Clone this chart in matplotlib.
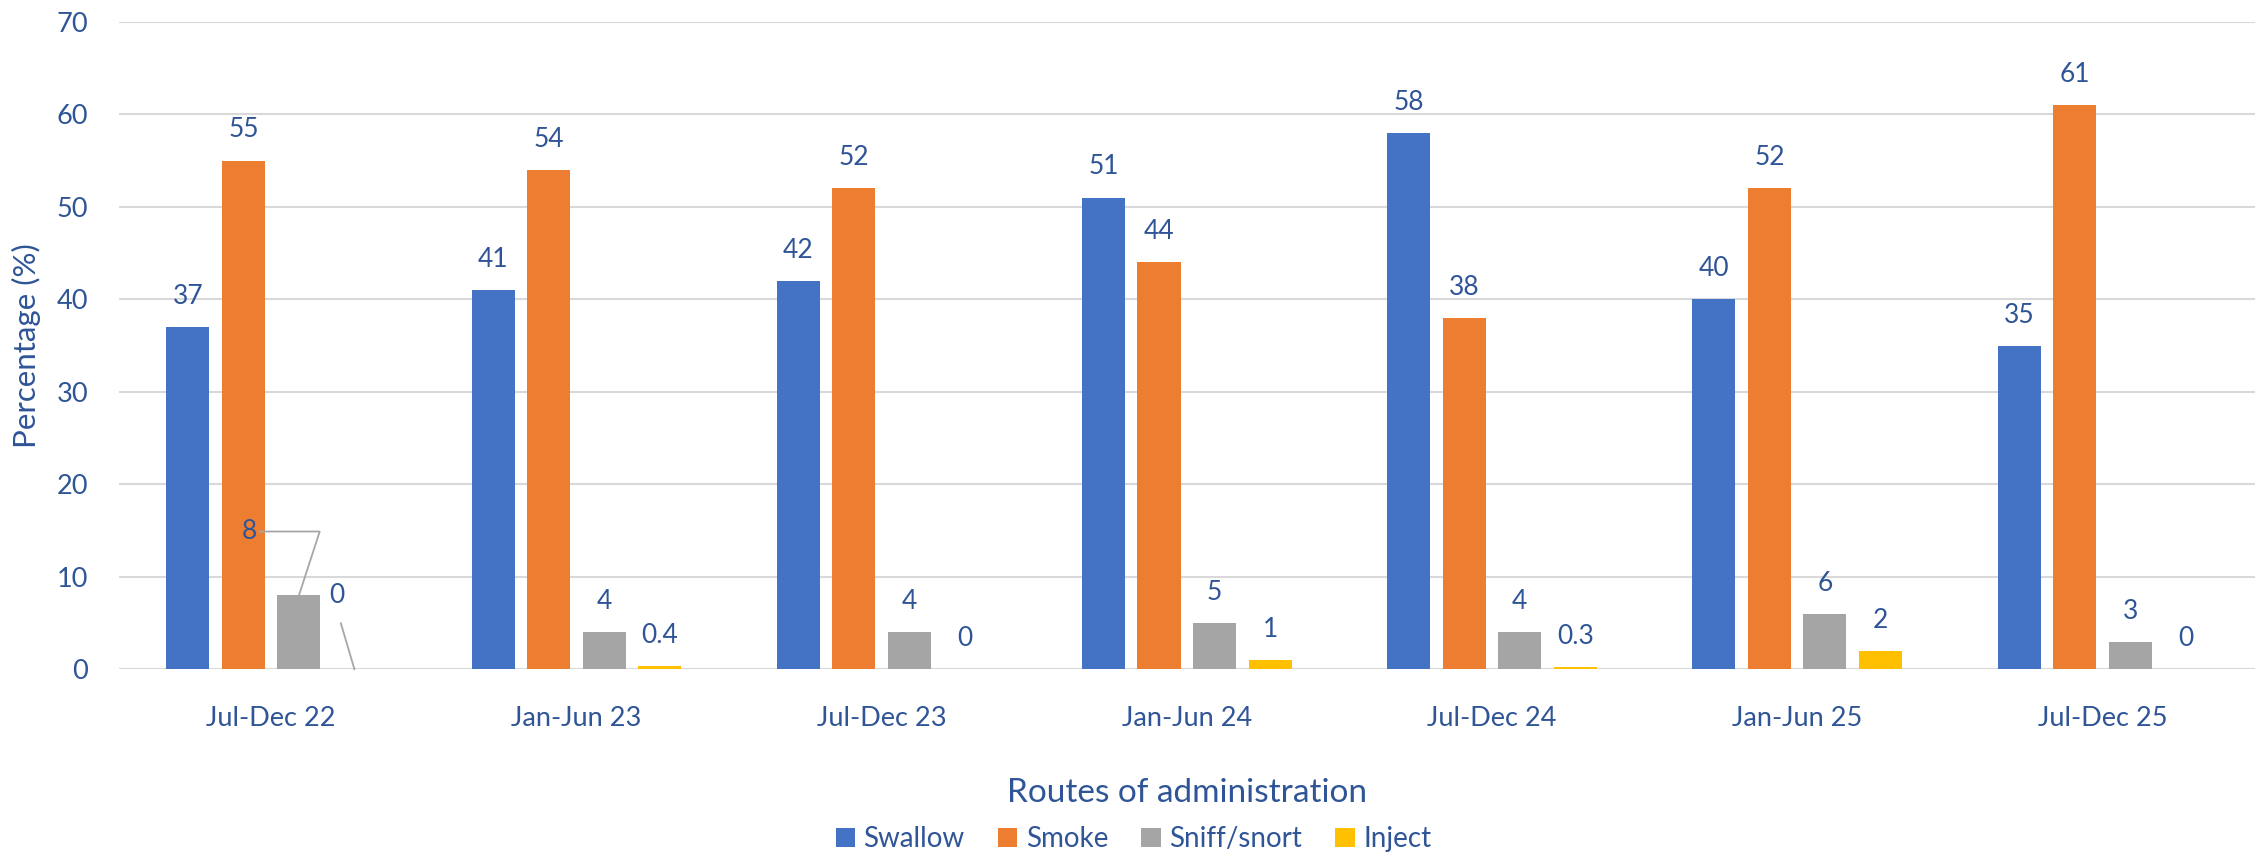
import matplotlib
matplotlib.use("Agg")
import matplotlib.pyplot as plt
import numpy as np

periods = ["Jul-Dec 22", "Jan-Jun 23", "Jul-Dec 23", "Jan-Jun 24",
           "Jul-Dec 24", "Jan-Jun 25", "Jul-Dec 25"]
series_names = ["Swallow", "Smoke", "Sniff/snort", "Inject"]
swallow = [37, 41, 42, 51, 58, 40, 35]
smoke = [55, 54, 52, 44, 38, 52, 61]
sniff = [8, 4, 4, 5, 4, 6, 3]
inject = [0, 0.4, 0, 1, 0.3, 2, 0]

colors = ["#4472C4", "#ED7D31", "#A5A5A5", "#FFC000"]
text_color = "#2F5597"
grid_color = "#D9D9D9"

plt.rcParams["font.family"] = ["Lato", "DejaVu Sans"]

fig = plt.figure(figsize=(22.67, 8.58), dpi=100)
ax = fig.add_axes([0.0523, 0.2198, 0.9424, 0.7549])

x = np.arange(len(periods))
step = 0.182
width = 0.141
label_size = 19

all_series = [swallow, smoke, sniff, inject]

for i, (name, vals) in enumerate(zip(series_names, all_series)):
    offset = (i - 1.5) * step
    bars = ax.bar(x + offset, vals, width, color=colors[i], label=name, zorder=3)
    for j, (b, v) in enumerate(zip(bars, vals)):
        label = f"{v:g}"
        cx = b.get_x() + b.get_width() / 2
        if j == 0 and i == 2:
            # label pulled out to the left with a leader line
            ax.annotate(label, xy=(cx, v), xytext=(-36, 46),
                        textcoords="offset points", ha="center", va="center",
                        fontsize=label_size, color=text_color,
                        arrowprops=dict(arrowstyle="-", color="#A6A6A6", lw=1.3,
                                        shrinkA=0, shrinkB=0, relpos=(1, 0.5),
                                        connectionstyle="angle,angleA=0,angleB=72,rad=0"))
        elif j == 0 and i == 3:
            ax.annotate(label, xy=(cx, v), xytext=(-13, 53),
                        textcoords="offset points", ha="center", va="center",
                        fontsize=label_size, color=text_color,
                        arrowprops=dict(arrowstyle="-", color="#A6A6A6", lw=1.3,
                                        shrinkA=9, shrinkB=0, relpos=(0.5, 0)))
        else:
            ax.annotate(label, xy=(cx, v), xytext=(0, 22),
                        textcoords="offset points", ha="center", va="center",
                        fontsize=label_size, color=text_color)

ax.set_xlim(-0.5, len(periods) - 0.5)
ax.set_ylim(0, 70)
ax.set_yticks(range(0, 71, 10))
ax.set_xticks(x)
ax.set_xticklabels(periods)
ax.yaxis.grid(True, color=grid_color, lw=1.5, zorder=0)
ax.tick_params(axis="both", length=0, labelcolor=text_color)
ax.tick_params(axis="y", pad=22, labelsize=19.5)
ax.tick_params(axis="x", pad=26, labelsize=19.5)
for s in ax.spines.values():
    s.set_visible(False)

ax.set_ylabel("Percentage (%)", fontsize=22.5, color=text_color, labelpad=11)
ax.set_xlabel("Routes of administration", fontsize=24, color=text_color, labelpad=34)

handles, labels = ax.get_legend_handles_labels()
fig.legend(handles, labels, loc="center", bbox_to_anchor=(0.5, 0.022), ncol=4,
           frameon=False, fontsize=20, labelcolor=text_color, handlelength=0.7,
           handleheight=0.7, handletextpad=0.3, columnspacing=1.2)

fig.savefig("out.png", dpi=100)
plt.close(fig)
